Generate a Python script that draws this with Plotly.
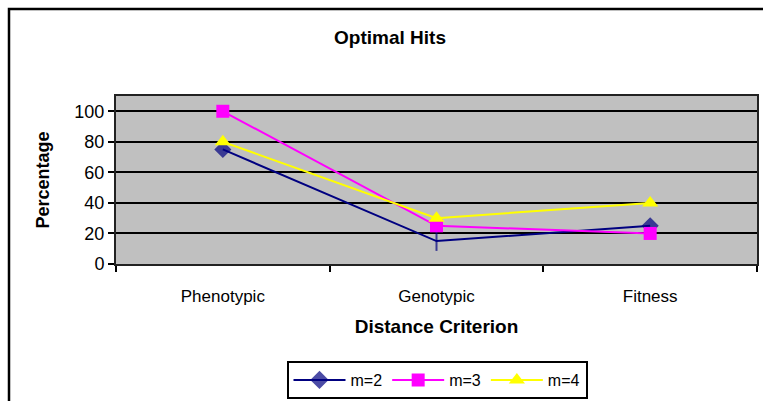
import plotly.graph_objects as go

categories = ["Phenotypic", "Genotypic", "Fitness"]
m2 = [75, 15, 25]
m3 = [100, 25, 20]
m4 = [80, 30, 40]
series_names = ["m=2", "m=3", "m=4"]
y_ticks = [0, 20, 40, 60, 80, 100]

FONT = "Liberation Sans, Arial, sans-serif"

fig = go.Figure()
fig.add_trace(go.Scatter(
    x=categories, y=m2, name=series_names[0], mode="lines+markers",
    line=dict(color="#000080", width=2),
    marker=dict(symbol=["diamond", "line-ns", "diamond"], size=[11, 14, 11],
                color="#000080", line=dict(color="#000080", width=2)),
))
fig.add_trace(go.Scatter(
    x=categories, y=m3, name=series_names[1], mode="lines+markers",
    line=dict(color="#FF00FF", width=2),
    marker=dict(symbol="square", size=13, color="#FF00FF"),
))
fig.add_trace(go.Scatter(
    x=categories, y=m4, name=series_names[2], mode="lines+markers",
    line=dict(color="#FFFF00", width=2),
    marker=dict(symbol="triangle-up", size=14, color="#FFFF00"),
))

L, R, T, B = 116, 6, 96, 137
W, H = 763, 401
pw, ph = W - L - R, H - T - B

def px(x):
    return (x - L) / pw

def py(y):
    return (H - B - y) / ph

fig.update_layout(
    width=W, height=H,
    margin=dict(l=L, r=R, t=T, b=B, pad=0, autoexpand=False),
    paper_bgcolor="white",
    plot_bgcolor="#C0C0C0",
    font=dict(family=FONT, size=17, color="black"),
    title=dict(text="<b>Optimal Hits</b>", x=390 / W, xanchor="center",
               y=1 - 37 / H, yanchor="middle", font=dict(size=19)),
    showlegend=True,
    legend=dict(orientation="h", x=px(437), xanchor="center", y=py(399), yanchor="bottom",
                bordercolor="black", borderwidth=2, bgcolor="white",
                font=dict(size=16), itemwidth=52, tracegroupgap=0),
    shapes=[dict(type="rect", xref="paper", yref="paper",
                 x0=px(9), x1=px(766), y0=py(404), y1=py(9),
                 line=dict(color="black", width=2.5), layer="below")],
)

fig.update_xaxes(
    type="category", range=[-0.5, 2.5],
    tickson="boundaries", ticks="outside", ticklen=6, tickcolor="black", tickwidth=1.5,
    showline=True, linecolor="#222", linewidth=2, mirror=True,
    showgrid=False, ticklabelstandoff=16,
    title=dict(text="<b>Distance Criterion</b>", standoff=14, font=dict(size=19)),
)
fig.update_yaxes(
    range=[0, 110], tickvals=y_ticks, ticks="outside", ticklen=6, tickcolor="black", tickwidth=1.5,
    showline=True, linecolor="#222", linewidth=2, mirror=True,
    showgrid=True, gridcolor="black", gridwidth=1.5, zeroline=False,
    tickfont=dict(size=18),
    title=dict(text="<b>Percentage</b>", standoff=20, font=dict(size=18)),
)

fig.write_html("out.html", config={"displayModeBar": False},
               post_script="document.body.style.margin='0px';document.body.style.overflow='hidden';document.documentElement.style.overflow='hidden';")
